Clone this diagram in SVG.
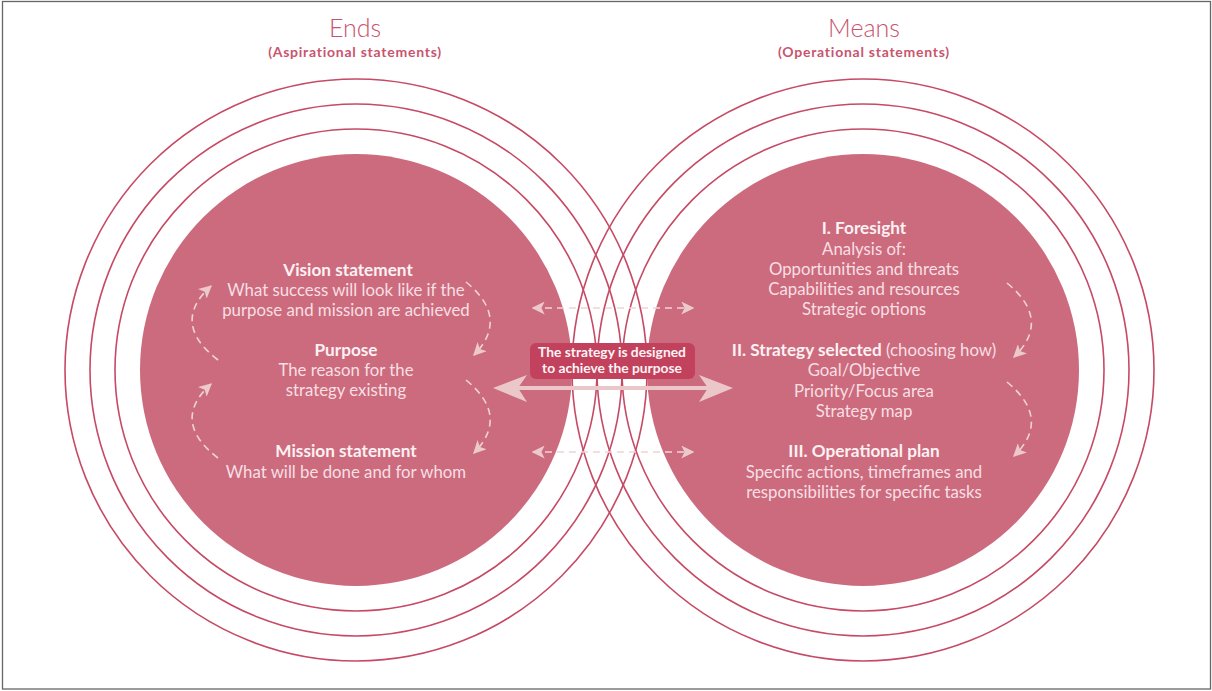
<svg xmlns="http://www.w3.org/2000/svg" width="1212" height="691" viewBox="0 0 1212 691">
<style>
.ring{fill:none;stroke:#c64a65;stroke-width:1.6}
.disc{fill:#cd6b7e}
.title{font-family:Lato,"Open Sans",sans-serif;font-weight:300;font-size:25px;fill:#c9546d;text-anchor:middle}
.sub{font-family:Lato,"Open Sans",sans-serif;font-weight:700;font-size:14px;letter-spacing:0.75px;fill:#c9546d;text-anchor:middle}
.h{font-family:Lato,"Open Sans",sans-serif;font-weight:700;font-size:17.2px;fill:#fcf1f3;text-anchor:middle}
.t{font-family:Lato,"Open Sans",sans-serif;font-weight:400;font-size:16.8px;fill:#f7dfe3;text-anchor:middle}
.lab{font-family:Lato,"Open Sans",sans-serif;font-weight:700;font-size:13.8px;fill:#fdf3f5;text-anchor:middle}
.dash{fill:none;stroke:#efd3d6;stroke-width:1.6;stroke-dasharray:7 5}
</style>
<defs>
<marker id="ah" viewBox="0 0 10 10" refX="9" refY="5" markerWidth="13" markerHeight="13" markerUnits="userSpaceOnUse" orient="auto-start-reverse">
<path d="M0,0 L10,5 L0,10 L2.5,5 Z" fill="#ecc9cb"/>
</marker>
</defs>
<rect x="2.5" y="1.5" width="1208" height="687.5" fill="#fff" stroke="#666" stroke-width="1.3"/>

<g id="rings">
<circle class="ring" cx="356" cy="370" r="241"/>
<circle class="ring" cx="356" cy="370" r="266"/>
<circle class="ring" cx="356" cy="370" r="291"/>
<circle class="ring" cx="863" cy="370" r="241"/>
<circle class="ring" cx="863" cy="370" r="266"/>
<circle class="ring" cx="863" cy="370" r="291"/>
</g>

<g id="ends">
<circle class="disc" cx="356" cy="370" r="216"/>
<text class="title" x="355" y="37">Ends</text>
<text class="sub" x="355" y="57">(Aspirational statements)</text>
</g>

<g id="means">
<circle class="disc" cx="863" cy="370" r="216"/>
<text class="title" x="864" y="37">Means</text>
<text class="sub" x="864" y="57">(Operational statements)</text>
</g>

<g id="vision">
<text class="h" x="348" y="276">Vision statement</text>
<text class="t" x="346" y="296">What success will look like if the</text>
<text class="t" x="346" y="316">purpose and mission are achieved</text>
</g>

<g id="purpose">
<text class="h" x="346" y="356">Purpose</text>
<text class="t" x="346" y="376">The reason for the</text>
<text class="t" x="346" y="396">strategy existing</text>
</g>

<g id="mission">
<text class="h" x="346" y="457">Mission statement</text>
<text class="t" x="346" y="478">What will be done and for whom</text>
</g>

<g id="foresight">
<text class="h" x="864" y="234">I. Foresight</text>
<text class="t" x="864" y="255">Analysis of:</text>
<text class="t" x="864" y="275">Opportunities and threats</text>
<text class="t" x="864" y="295">Capabilities and resources</text>
<text class="t" x="864" y="315">Strategic options</text>
</g>

<g id="strategy">
<text x="864" y="356" class="t"><tspan style="font-weight:700;font-size:17.2px;fill:#fcf1f3">II. Strategy selected</tspan> (choosing how)</text>
<text class="t" x="864" y="376">Goal/Objective</text>
<text class="t" x="864" y="397">Priority/Focus area</text>
<text class="t" x="864" y="417">Strategy map</text>
</g>

<g id="operational">
<text class="h" x="864" y="457">III. Operational plan</text>
<text class="t" x="864" y="478">Specific actions, timeframes and</text>
<text class="t" x="864" y="498">responsibilities for specific tasks</text>
</g>

<g id="connectors">
<path d="M500,388 H726" stroke="#ecc7c9" stroke-width="4" fill="none"/>
<path d="M493,388 L527,375 L518,388 L527,402 Z" fill="#ecc7c9"/>
<path d="M733,388 L699,375 L708,388 L699,402 Z" fill="#ecc7c9"/>
<path class="dash" d="M533,308 H693" marker-start="url(#ah)" marker-end="url(#ah)"/>
<path class="dash" d="M533,452 H693" marker-start="url(#ah)" marker-end="url(#ah)"/>
<path class="dash" d="M218,360 Q170,323 211,286" marker-end="url(#ah)"/>
<path class="dash" d="M218,458 Q170,421 211,384" marker-end="url(#ah)"/>
<path class="dash" d="M466,282 Q510,318 474,355" marker-end="url(#ah)"/>
<path class="dash" d="M466,380 Q510,416 474,453" marker-end="url(#ah)"/>
<path class="dash" d="M1007,283 Q1052,320 1014,357" marker-end="url(#ah)"/>
<path class="dash" d="M1007,382 Q1052,419 1014,456" marker-end="url(#ah)"/>
</g>

<g id="label">
<rect x="530" y="343" width="165" height="36" rx="6" fill="#c2425d"/>
<text class="lab" x="612" y="357">The strategy is designed</text>
<text class="lab" x="612" y="373">to achieve the purpose</text>
</g>
</svg>
